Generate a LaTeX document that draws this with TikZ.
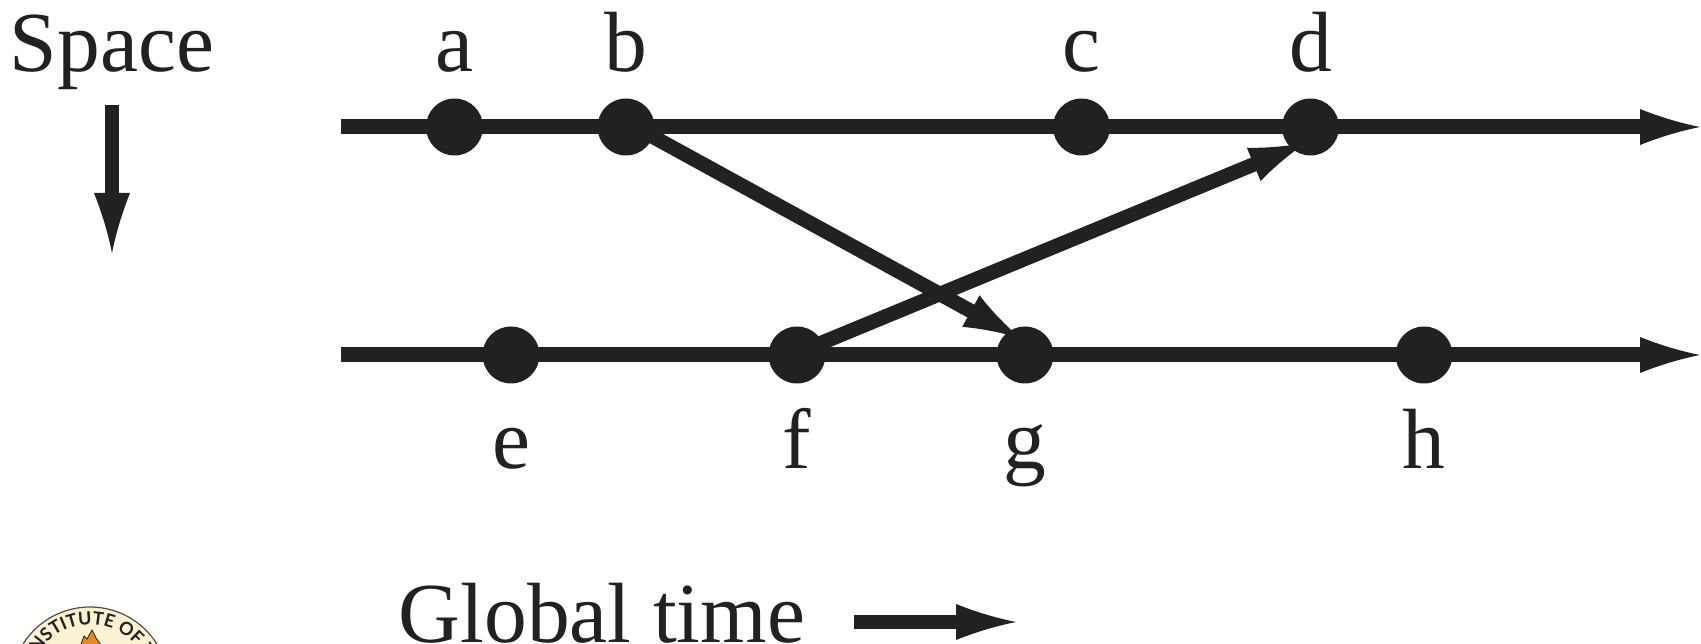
\documentclass[tikz,border=0pt]{standalone}
\usepackage{fontspec}
\setmainfont{Liberation Serif}
\newfontfamily\logofont{Lato}
\usetikzlibrary{decorations.text}
\definecolor{ink}{HTML}{212121}
\definecolor{cream}{HTML}{FBF1D3}
\definecolor{flame}{HTML}{E08A2A}
\pgfdeclarearrow{
  name=LongHead,
  setup code={
    \pgfarrowssettipend{60pt}
    \pgfarrowssetlineend{2pt}
    \pgfarrowssetvisualbackend{0pt}
    \pgfarrowssetbackend{0pt}
  },
  drawing code={
    \pgfpathmoveto{\pgfpoint{60pt}{0pt}}
    \pgfpathcurveto{\pgfpoint{40pt}{4pt}}{\pgfpoint{20pt}{10pt}}{\pgfpoint{0pt}{18pt}}
    \pgfpathlineto{\pgfpoint{0pt}{-18pt}}
    \pgfpathcurveto{\pgfpoint{20pt}{-10pt}}{\pgfpoint{40pt}{-4pt}}{\pgfpoint{60pt}{0pt}}
    \pgfpathclose
    \pgfusepathqfill
  }
}
\pgfdeclarearrow{
  name=MsgHead,
  setup code={
    \pgfarrowssettipend{56pt}
    \pgfarrowssetlineend{2pt}
    \pgfarrowssetvisualbackend{0pt}
    \pgfarrowssetbackend{0pt}
  },
  drawing code={
    \pgfpathmoveto{\pgfpoint{56pt}{0pt}}
    \pgfpathcurveto{\pgfpoint{38pt}{4pt}}{\pgfpoint{18pt}{10pt}}{\pgfpoint{0pt}{18pt}}
    \pgfpathlineto{\pgfpoint{0pt}{-18pt}}
    \pgfpathcurveto{\pgfpoint{18pt}{-10pt}}{\pgfpoint{38pt}{-4pt}}{\pgfpoint{56pt}{0pt}}
    \pgfpathclose
    \pgfusepathqfill
  }
}
\tikzset{
  timeline/.style={draw=ink,line width=15pt,-LongHead},
  msgline/.style={draw=ink,fill=ink,line width=14.5pt,-MsgHead},
  keyline/.style={draw=ink,fill=ink,line width=14.5pt,-LongHead},
  event/.style={circle,fill=ink,minimum size=57pt,inner sep=0pt,outer sep=0pt},
  lbl/.style={text=ink,anchor=base,inner sep=0pt,font=\fontsize{85.5}{85.5}\selectfont},
}
\begin{document}
\begin{tikzpicture}[x=1pt,y=-1pt]
\useasboundingbox (0,0) rectangle (1701,644);
% timeline ends
\coordinate (s1) at (341,127);
\coordinate (e1) at (1700,127);
\coordinate (s2) at (341,355);
\coordinate (e2) at (1700,355);
\draw[timeline] (s1) -- (e1);
\draw[timeline] (s2) -- (e2);
% events
\node[event] (a) at (454.5,127) {};
\node[event] (b) at (626,127) {};
\node[event] (c) at (1081.5,127) {};
\node[event] (d) at (1310.5,127) {};
\node[event] (e) at (511,355) {};
\node[event] (f) at (797,355) {};
\node[event] (g) at (1025,355) {};
\node[event] (h) at (1424,355) {};
% messages
\draw[msgline] ([yshift=5pt]b.center) -- ([xshift=-5pt,yshift=17pt]g.center);
\draw[msgline] ([yshift=2pt]f.center) -- ([xshift=-5pt,yshift=-16pt]d.center);
% labels
\node[lbl] (la) at (454.5,71.5) {a};
\node[lbl] (lb) at (626,71.5) {b};
\node[lbl] (lc) at (1081.5,71.5) {c};
\node[lbl] (ld) at (1310.5,71.5) {d};
\node[lbl] (le) at (511,468.5) {e};
\node[lbl] (lf) at (797,468.5) {f};
\node[lbl] (lg) at (1025,468.5) {g};
\node[lbl] (lh) at (1424,468.5) {h};
\node[lbl] (space) at (112,71.5) {Space};
\node[lbl] (gtime) at (602,642) {Global time};
% key arrows
\coordinate (sp1) at (112,105);
\coordinate (sp2) at (112,253);
\draw[keyline] (sp1) -- (sp2);
\coordinate (gt1) at (854,622);
\coordinate (gt2) at (1016,622);
\draw[keyline] (gt1) -- (gt2);
% logo, cut off by the lower edge
\begin{scope}
\clip (0,0) rectangle (1701,644);
\begin{scope}[y=1pt,shift={(90pt,-686pt)}]
\fill[cream,draw=ink!80,line width=1.2pt] (0,0) circle[radius=79pt];
\path[decorate,decoration={text along path,text align=center,
   text={|\logofont\bfseries\fontsize{18}{18}\selectfont\color{ink}|INSTITUTE OF T}}]
   (-60pt,12pt) arc[start angle=169,end angle=11,radius=61.2pt];
\fill[flame,draw=ink,line width=.8pt] (-9pt,42pt) -- (-6pt,50pt) -- (-3pt,47pt) -- (2pt,56pt)
   -- (6pt,48pt) -- (12pt,40pt) -- (12pt,30pt) -- (-9pt,30pt) -- cycle;
\end{scope}
\end{scope}
\end{tikzpicture}
\end{document}
